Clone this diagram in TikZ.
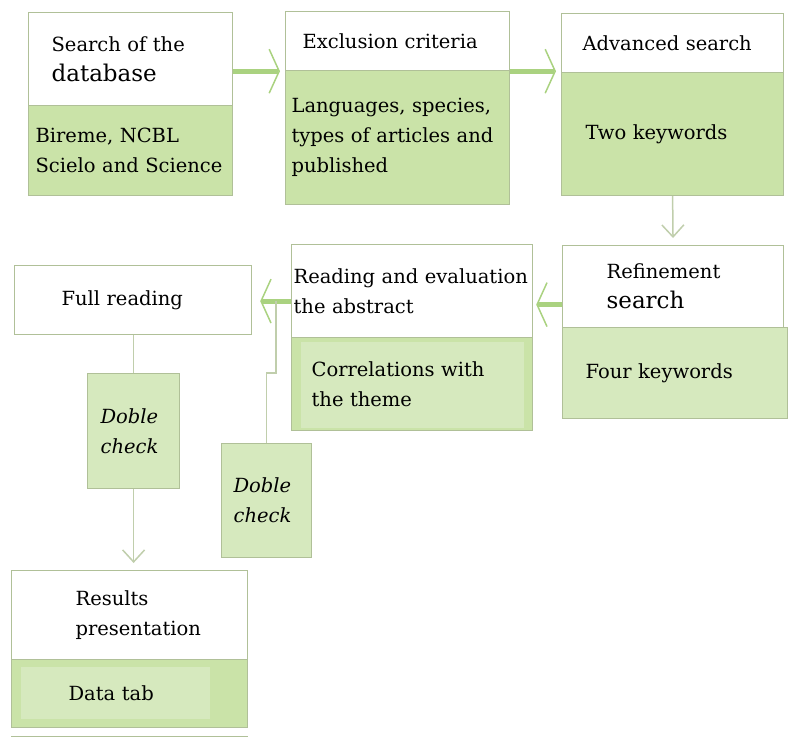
\documentclass[tikz,border=0pt]{standalone}
\usepackage{fontspec}
\setmainfont{DejaVu Serif}
\usetikzlibrary{arrows.meta}
\hyphenpenalty=10000

\definecolor{boxline}{RGB}{176,192,152}
\definecolor{boxgreen}{RGB}{202,227,168}
\definecolor{palegreen}{RGB}{214,233,190}
\definecolor{flowgreen}{RGB}{170,210,128}
\definecolor{linegray}{RGB}{192,206,172}
\newcommand{\bigtext}[1]{{\fontsize{23}{30}\selectfont #1}}

\begin{document}
\begin{tikzpicture}[x=1pt, y=-1pt,
  every node/.style={anchor=north west, align=left, inner sep=0pt, line width=1.2pt,
    font=\fontsize{19.5}{30}\selectfont},
  head/.style={draw=boxline, fill=white},
  body/.style={draw=boxline, fill=boxgreen},
  check/.style={draw=boxline, fill=palegreen, font=\fontsize{19.5}{30}\selectfont\itshape},
  inlay/.style n args={4}{path picture={\fill[palegreen]
    ([shift={(#1pt,-#2pt)}]path picture bounding box.north west) rectangle
    ([shift={(-#3pt,#4pt)}]path picture bounding box.south east);}},
  flow/.style={draw=flowgreen, line width=5pt, shorten >=5pt,
    -{Straight Barb[length=10pt, width=44pt, line width'=1.5pt]}},
  link/.style={draw=linegray, line width=1.5pt},
  linkarrow/.style={link, shorten >=7pt,
    -{Straight Barb[length=12pt, width=22pt, line width'=1.5pt]}}]
  \useasboundingbox (0,0) rectangle (800,737);

  \node[head, minimum width=204, minimum height=93, text width=158] (search) at (28,12)
    {Search of the\\\bigtext{database}};
  \node[body, minimum width=204, minimum height=90, text width=190] (searchbody) at (28,105)
    {Bireme, NCBL\\Scielo and Science};

  \node[head, minimum width=224, minimum height=59, text width=190] (excl) at (285,11)
    {Exclusion criteria};
  \node[body, minimum width=224, minimum height=134, text width=212] (exclbody) at (285,70)
    {Languages, species,\\types of articles and\\published};

  \node[head, minimum width=222, minimum height=59, text width=180] (adv) at (561,13)
    {Advanced search};
  \node[body, minimum width=222, minimum height=123, text width=174] (advbody) at (561,72)
    {Two keywords};

  \node[head, minimum width=221, minimum height=82, text width=133] (ref) at (562,245)
    {Refinement\\\bigtext{search}};
  \node[body, fill=palegreen, minimum width=225, minimum height=91, text width=179] (refbody) at (562,327)
    {Four keywords};

  \node[head, minimum width=241, minimum height=93, text width=237] (read) at (291,244)
    {Reading and evaluation\\the abstract};
  \node[body, inlay={9}{4}{9}{3}, minimum width=241, minimum height=93, text width=201] (readbody) at (291,337)
    {Correlations with\\the theme};

  \node[head, minimum width=237, minimum height=69, text width=143] (full) at (14,265)
    {Full reading};
  \node[check, minimum width=92, minimum height=115, text width=66] (chk1) at (87,373)
    {Doble\\check};
  \node[check, minimum width=90, minimum height=114, text width=66] (chk2) at (221,443)
    {Doble\\check};

  \node[head, minimum width=236, minimum height=89, text width=108] (res) at (11,570)
    {Results\\presentation};
  \node[body, inlay={9}{7}{38}{9}, minimum width=236, minimum height=68, text width=122] (resbody) at (11,659)
    {Data tab};

  \draw[flow] (search.east |- excl.south) -- (excl.south west);
  \draw[flow] (excl.south east) -- (excl.south east -| adv.west);
  \draw[linkarrow] (advbody.south) -- (ref.north);
  \draw[flow, shorten >=3pt] ([yshift=-18pt]ref.west) -- ([yshift=-18pt]ref.west -| read.east);
  \draw[flow, shorten >=8pt] ([yshift=-10pt]read.west) -- ([yshift=-10pt]read.west -| full.east);
  \coordinate (fork) at (276,301);
  \draw[link] (fork) -- ++(0,72) -| (chk2.north);
  \draw[link] (chk1.north |- full.south) -- (chk1.north);
  \draw[linkarrow] (chk1.south) -- (chk1.south |- res.north);
  \draw[boxline, line width=1.2pt] ([yshift=-8pt]resbody.south west) -- ([yshift=-8pt]resbody.south east);
\end{tikzpicture}
\end{document}
